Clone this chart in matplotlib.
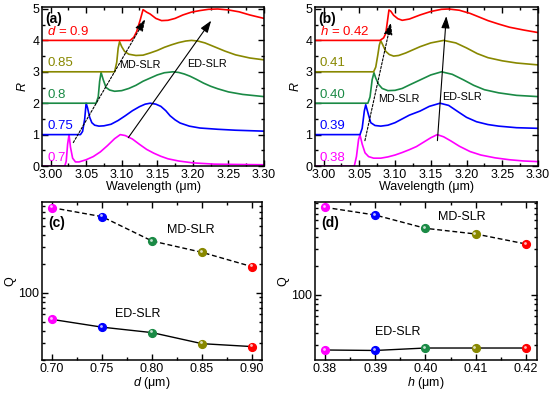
import numpy as np
import matplotlib.pyplot as plt
import matplotlib.transforms as mtransforms
from matplotlib.ticker import MultipleLocator, FixedLocator, NullFormatter

plt.rcParams['font.family'] = ['Liberation Sans', 'DejaVu Sans']
plt.rcParams['font.size'] = 9
plt.rcParams['mathtext.fontset'] = 'custom'
plt.rcParams['mathtext.rm'] = 'Liberation Sans'
plt.rcParams['mathtext.it'] = 'Liberation Sans:italic'
plt.rcParams['axes.linewidth'] = 1.1

colors = ['#ff00ff', '#0000ff', '#1a8a45', '#888800', '#ff0000']

# (a) spectra for d = 0.70 ... 0.90 um, R normalised, stacked by index
d_vals = ['0.7', '0.75', '0.8', '0.85', '0.9']
lam_a = [
    [2.988, 3.020, 3.022, 3.024, 3.026, 3.028, 3.031, 3.035, 3.040, 3.050, 3.060, 3.070, 3.080,
     3.090, 3.098, 3.105, 3.115, 3.125, 3.135, 3.145, 3.155, 3.165, 3.180, 3.200, 3.230, 3.260, 3.300],
    [2.988, 3.042, 3.045, 3.048, 3.050, 3.052, 3.055, 3.058, 3.062, 3.068, 3.075, 3.085, 3.095,
     3.105, 3.115, 3.125, 3.133, 3.140, 3.148, 3.155, 3.162, 3.168, 3.175, 3.182, 3.195, 3.210,
     3.235, 3.260, 3.300],
    [2.988, 3.064, 3.067, 3.069, 3.071, 3.074, 3.078, 3.083, 3.090, 3.100, 3.110, 3.120, 3.130,
     3.140, 3.150, 3.160, 3.172, 3.180, 3.188, 3.196, 3.205, 3.215, 3.225, 3.235, 3.250, 3.270, 3.300],
    [2.988, 3.090, 3.093, 3.095, 3.097, 3.100, 3.104, 3.110, 3.120, 3.130, 3.140, 3.150, 3.160,
     3.170, 3.180, 3.190, 3.198, 3.207, 3.217, 3.230, 3.245, 3.260, 3.280, 3.300],
    [2.988, 3.112, 3.117, 3.121, 3.126, 3.130, 3.135, 3.140, 3.148, 3.156, 3.165, 3.175, 3.186,
     3.198, 3.210, 3.222, 3.235, 3.250, 3.265, 3.280, 3.300],
]
refl_a = [
    [0.0, 0.0, 0.15, 0.7, 1.0, 0.6, 0.25, 0.13, 0.13, 0.2, 0.3, 0.45, 0.65,
     0.87, 1.0, 0.97, 0.86, 0.69, 0.53, 0.41, 0.31, 0.23, 0.16, 0.1, 0.06, 0.05, 0.04],
    [0.0, 0.0, 0.1, 0.5, 1.0, 0.85, 0.55, 0.38, 0.3, 0.27, 0.28, 0.33, 0.45,
     0.6, 0.76, 0.89, 0.97, 1.0, 0.97, 0.9, 0.76, 0.6, 0.47, 0.37, 0.27, 0.21,
     0.17, 0.14, 0.11],
    [0.0, 0.0, 0.2, 0.7, 0.98, 0.75, 0.5, 0.42, 0.38, 0.4, 0.47, 0.57, 0.7,
     0.8, 0.9, 0.97, 1.0, 0.98, 0.93, 0.86, 0.76, 0.64, 0.54, 0.46, 0.36, 0.28, 0.21],
    [0.0, 0.0, 0.3, 0.75, 0.96, 0.8, 0.65, 0.56, 0.52, 0.53, 0.6, 0.68, 0.78,
     0.86, 0.93, 0.98, 1.0, 0.98, 0.92, 0.8, 0.66, 0.54, 0.44, 0.38],
    [0.0, 0.0, 0.1, 0.28, 0.65, 0.98, 0.9, 0.84, 0.7, 0.63, 0.64, 0.7, 0.81,
     0.9, 0.95, 0.99, 1.0, 0.97, 0.91, 0.81, 0.70],
]

# (b) spectra for h = 0.38 ... 0.42 um
h_vals = ['0.38', '0.39', '0.40', '0.41', '0.42']
lam_b = [
    [2.988, 3.043, 3.046, 3.049, 3.051, 3.054, 3.058, 3.063, 3.070, 3.080, 3.090, 3.100, 3.110,
     3.120, 3.130, 3.140, 3.150, 3.159, 3.168, 3.178, 3.190, 3.205, 3.220, 3.240, 3.260, 3.280, 3.300],
    [2.988, 3.051, 3.054, 3.057, 3.059, 3.062, 3.066, 3.072, 3.080, 3.090, 3.100, 3.110, 3.120,
     3.135, 3.148, 3.163, 3.175, 3.190, 3.200, 3.214, 3.230, 3.245, 3.270, 3.300],
    [2.988, 3.062, 3.065, 3.068, 3.0705, 3.073, 3.077, 3.082, 3.090, 3.100, 3.110, 3.120, 3.135,
     3.150, 3.165, 3.180, 3.196, 3.210, 3.225, 3.245, 3.270, 3.300],
    [2.988, 3.070, 3.073, 3.076, 3.078, 3.080, 3.083, 3.087, 3.092, 3.098, 3.105, 3.115, 3.125,
     3.135, 3.150, 3.168, 3.185, 3.200, 3.215, 3.230, 3.250, 3.270, 3.300],
    [2.988, 3.079, 3.084, 3.087, 3.089, 3.0915, 3.094, 3.098, 3.104, 3.110, 3.120, 3.135, 3.150,
     3.165, 3.175, 3.190, 3.205, 3.217, 3.230, 3.245, 3.260, 3.280, 3.300],
]
refl_b = [
    [0.0, 0.0, 0.3, 0.85, 0.99, 0.7, 0.42, 0.3, 0.25, 0.25, 0.29, 0.35, 0.43,
     0.52, 0.62, 0.76, 0.9, 1.0, 0.93, 0.8, 0.63, 0.46, 0.35, 0.26, 0.2, 0.16, 0.14],
    [0.0, 0.0, 0.2, 0.75, 0.95, 0.7, 0.38, 0.29, 0.27, 0.3, 0.38, 0.5, 0.62,
     0.75, 0.9, 1.0, 0.93, 0.7, 0.55, 0.41, 0.32, 0.27, 0.22, 0.2],
    [0.0, 0.0, 0.2, 0.75, 0.97, 0.8, 0.6, 0.47, 0.4, 0.41, 0.47, 0.58, 0.74,
     0.9, 1.0, 0.92, 0.74, 0.57, 0.43, 0.33, 0.25, 0.21],
    [0.0, 0.0, 0.15, 0.55, 0.85, 0.99, 0.85, 0.65, 0.55, 0.5, 0.52, 0.6, 0.7,
     0.8, 0.92, 1.0, 0.92, 0.76, 0.58, 0.45, 0.35, 0.28, 0.22],
    [0.0, 0.0, 0.08, 0.22, 0.55, 0.97, 0.93, 0.8, 0.69, 0.64, 0.68, 0.81, 0.92,
     0.99, 1.0, 0.96, 0.86, 0.75, 0.63, 0.52, 0.42, 0.33, 0.25],
]

# (c) Q factor vs d
d_um = [0.70, 0.75, 0.80, 0.85, 0.90]
Q_md_d = [774, 624, 348, 265, 188]
Q_ed_d = [53, 44, 38.6, 29.6, 27.6]

# (d) Q factor vs h
h_um = [0.38, 0.39, 0.40, 0.41, 0.42]
Q_md_h = [819, 681, 495, 432, 340]
Q_ed_h = [26.7, 26.4, 28.0, 28.0, 28.0]

fig = plt.figure(figsize=(5.5, 3.95), dpi=100)
ax_a = fig.add_axes([0.0764, 0.5797, 0.4036, 0.4015])
ax_b = fig.add_axes([0.5727, 0.5797, 0.4055, 0.4015])
ax_c = fig.add_axes([0.0764, 0.0886, 0.4, 0.4])
ax_d = fig.add_axes([0.5727, 0.0886, 0.4036, 0.4])


def style(ax):
    ax.tick_params(which='both', direction='in', top=True, right=True, width=1)
    ax.tick_params(which='major', length=4, labelsize=9, pad=2)
    ax.tick_params(which='minor', length=2.5)


def spectra(ax, lam, refl, labels, var, tag, arr_md, arr_ed, md_xy, ed_xy):
    for i in range(5):
        ax.plot(lam[i], np.array(refl[i]) + i, color=colors[i], lw=1.2)
        txt = labels[i] if i < 4 else r'$%s$ = %s' % (var, labels[i])
        ax.text(2.995, i + 0.27, txt, color=colors[i], fontsize=9.5, ha='left', va='center')
    ax.set_xlim(2.988, 3.30)
    ax.set_ylim(0, 5.05)
    ax.xaxis.set_major_locator(FixedLocator([3.00, 3.05, 3.10, 3.15, 3.20, 3.25, 3.30]))
    ax.xaxis.set_minor_locator(MultipleLocator(0.025))
    ax.yaxis.set_major_locator(MultipleLocator(1))
    ax.yaxis.set_minor_locator(MultipleLocator(0.5))
    ax.set_xticklabels(['3.00', '3.05', '3.10', '3.15', '3.20', '3.25', '3.30'])
    ax.set_xlabel(u'Wavelength (\u03bcm)', labelpad=0)
    ax.set_ylabel(r'$R$', labelpad=2)
    ax.text(2.992, 4.68, tag, fontweight='bold', fontsize=10, va='center')
    ax.annotate('', xy=arr_md[1], xytext=arr_md[0],
                arrowprops=dict(arrowstyle='-|>,head_length=0.8,head_width=0.28',
                                lw=0.8, ls=(0, (2, 1.5)), color='k'))
    ax.annotate('', xy=arr_ed[1], xytext=arr_ed[0],
                arrowprops=dict(arrowstyle='-|>,head_length=0.8,head_width=0.28',
                                lw=0.8, color='k'))
    ax.text(md_xy[0], md_xy[1], 'MD-SLR', fontsize=7.8, ha='center', va='center')
    ax.text(ed_xy[0], ed_xy[1], 'ED-SLR', fontsize=7.8, ha='center', va='center')
    style(ax)


spectra(ax_a, lam_a, refl_a, d_vals, 'd', '(a)',
        ((3.030, 0.67), (3.135, 4.75)), ((3.107, 0.83), (3.228, 4.70)),
        (3.126, 3.22), (3.22, 3.24))
spectra(ax_b, lam_b, refl_b, h_vals, 'h', '(b)',
        ((3.057, 0.72), (3.095, 4.65)), ((3.159, 0.72), (3.172, 4.86)),
        (3.105, 2.13), (3.194, 2.2))


def qplot(ax, x, qmd, qed, xlim, ylim, xticks, xlab, tag, md_xy, ed_xy, minor):
    ax.set_yscale('log')
    ax.plot(x, qmd, color='k', lw=1, ls=(0, (3.5, 2)), zorder=1)
    ax.plot(x, qed, color='k', lw=1, zorder=1)
    hl = mtransforms.offset_copy(ax.transData, fig=fig, x=-1.0, y=1.0, units='points')
    for i in range(5):
        for q in (qmd[i], qed[i]):
            ax.plot(x[i], q, 'o', ms=5.6, color=colors[i], mec=colors[i], zorder=3)
            ax.plot(x[i], q, 'o', ms=2.0, color='white', mec='none', alpha=0.75,
                    transform=hl, zorder=4)
    ax.set_xlim(*xlim)
    ax.set_ylim(*ylim)
    ax.set_xticks(xticks)
    ax.set_xticklabels(['%.2f' % t for t in xticks])
    ax.xaxis.set_minor_locator(MultipleLocator(minor))
    ax.yaxis.set_minor_formatter(NullFormatter())
    ax.set_yticks([100])
    ax.set_yticklabels(['100'])
    ax.set_xlabel(xlab, labelpad=0)
    ax.set_ylabel('Q', labelpad=1)
    ax.text(0.03, 0.84, tag, transform=ax.transAxes, fontweight='bold', fontsize=10)
    ax.text(md_xy[0], md_xy[1], 'MD-SLR', fontsize=9, ha='center', va='center')
    ax.text(ed_xy[0], ed_xy[1], 'ED-SLR', fontsize=9, ha='center', va='center')
    style(ax)


qplot(ax_c, d_um, Q_md_d, Q_ed_d, (0.69, 0.91), (20.0, 887), d_um,
      u'$d$ (\u03bcm)', '(c)', (0.839, 453), (0.7855, 60), 0.025)
qplot(ax_d, h_um, Q_md_h, Q_ed_h, (0.378, 0.4222), (21.0, 931), h_um,
      u'$h$ (\u03bcm)', '(d)', (0.4073, 655), (0.3945, 40.8), 0.005)

fig.savefig('out.png', dpi=100)
